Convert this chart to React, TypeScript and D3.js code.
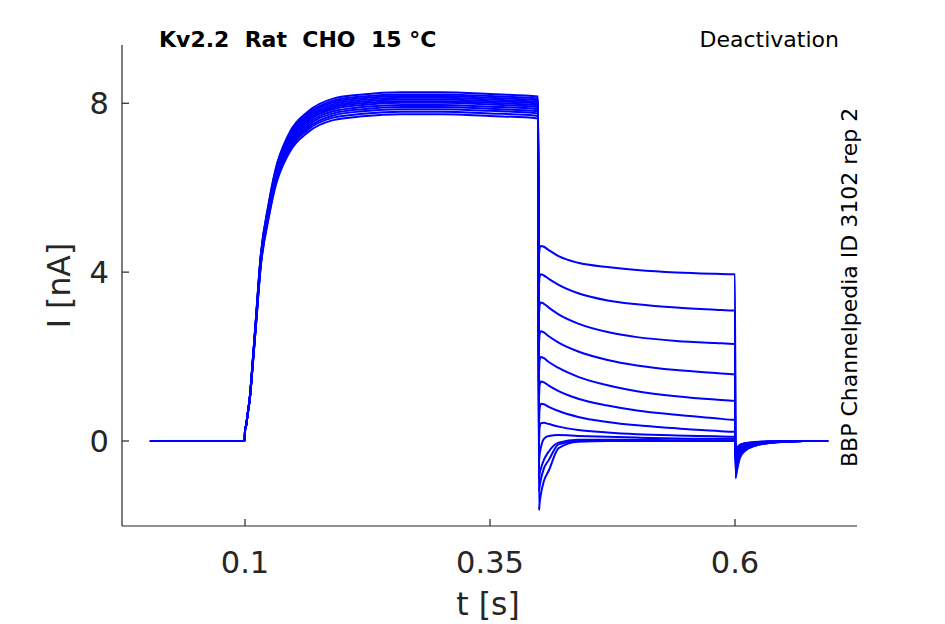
import * as d3 from "d3";

// sample times (s) for the three protocol phases
const actTimes = [0.003, 0.05, 0.0995, 0.1002, 0.101, 0.1025, 0.105, 0.108, 0.111, 0.116, 0.124, 0.131, 0.144, 0.164, 0.19, 0.22, 0.26, 0.3, 0.35, 0.399];
const tailTimes = [0.4, 0.4005, 0.402, 0.405, 0.41, 0.42, 0.44, 0.47, 0.5, 0.54, 0.58, 0.5995];
const postTimes = [0.6, 0.6005, 0.602, 0.605, 0.61, 0.62, 0.635, 0.65, 0.67, 0.695];

// activation current (nA), one row per sweep
const actValues = [
  [0, 0, 0, 0.3, 0.35, 0.6, 1.04, 1.89, 2.78, 4.27, 5.47, 6.26, 7.06, 7.6, 7.9, 8.0, 8.05, 8.05, 8.01, 7.95],
  [0, 0, 0, 0.3, 0.35, 0.6, 1.06, 1.92, 2.82, 4.34, 5.55, 6.35, 7.16, 7.72, 8.02, 8.12, 8.17, 8.17, 8.13, 8.07],
  [0, 0, 0, 0.3, 0.35, 0.6, 1.02, 1.84, 2.72, 4.17, 5.34, 6.11, 6.89, 7.42, 7.71, 7.81, 7.86, 7.86, 7.82, 7.76],
  [0, 0, 0, 0.3, 0.35, 0.6, 1.07, 1.94, 2.86, 4.39, 5.61, 6.42, 7.24, 7.8, 8.11, 8.21, 8.26, 8.26, 8.22, 8.16],
  [0, 0, 0, 0.3, 0.35, 0.6, 1.03, 1.87, 2.75, 4.23, 5.4, 6.19, 6.98, 7.52, 7.81, 7.91, 7.96, 7.96, 7.92, 7.86],
  [0, 0, 0, 0.3, 0.35, 0.6, 1.05, 1.91, 2.81, 4.32, 5.52, 6.32, 7.13, 7.68, 7.98, 8.08, 8.13, 8.13, 8.09, 8.03],
  [0, 0, 0, 0.3, 0.35, 0.6, 1.0, 1.82, 2.68, 4.11, 5.26, 6.02, 6.78, 7.31, 7.6, 7.69, 7.74, 7.74, 7.7, 7.64],
  [0, 0, 0, 0.3, 0.35, 0.6, 1.06, 1.93, 2.84, 4.36, 5.57, 6.39, 7.2, 7.75, 8.06, 8.16, 8.21, 8.21, 8.17, 8.11],
  [0, 0, 0, 0.3, 0.35, 0.6, 1.04, 1.88, 2.77, 4.25, 5.44, 6.23, 7.02, 7.57, 7.86, 7.96, 8.01, 8.01, 7.97, 7.91],
  [0, 0, 0, 0.3, 0.35, 0.6, 1.03, 1.86, 2.73, 4.2, 5.37, 6.15, 6.93, 7.47, 7.76, 7.86, 7.91, 7.91, 7.87, 7.81],
  [0, 0, 0, 0.3, 0.35, 0.6, 1.05, 1.9, 2.8, 4.29, 5.49, 6.29, 7.09, 7.64, 7.94, 8.04, 8.09, 8.09, 8.05, 7.99],
  [0, 0, 0, 0.3, 0.35, 0.6, 1.01, 1.83, 2.7, 4.14, 5.3, 6.07, 6.84, 7.37, 7.66, 7.75, 7.8, 7.8, 7.76, 7.7],
];

// tail current (nA) during the deactivation step
const tailValues = [
  [4.4, 4.55, 4.62, 4.6, 4.52, 4.38, 4.22, 4.12, 4.05, 3.99, 3.96, 3.95],
  [3.7, 3.88, 3.95, 3.92, 3.84, 3.7, 3.5, 3.33, 3.24, 3.16, 3.11, 3.09],
  [3.0, 3.2, 3.28, 3.25, 3.16, 3.0, 2.78, 2.58, 2.46, 2.37, 2.32, 2.3],
  [2.3, 2.52, 2.6, 2.57, 2.48, 2.33, 2.12, 1.92, 1.79, 1.68, 1.61, 1.58],
  [1.6, 1.9, 1.99, 1.96, 1.87, 1.73, 1.52, 1.32, 1.18, 1.06, 0.98, 0.95],
  [1.0, 1.3, 1.41, 1.39, 1.31, 1.18, 1.0, 0.84, 0.72, 0.62, 0.54, 0.5],
  [0.4, 0.75, 0.88, 0.87, 0.81, 0.71, 0.57, 0.45, 0.37, 0.3, 0.24, 0.22],
  [-0.1, 0.3, 0.42, 0.43, 0.4, 0.34, 0.26, 0.2, 0.16, 0.13, 0.11, 0.1],
  [-0.5, -0.35, -0.15, 0.05, 0.12, 0.14, 0.12, 0.1, 0.08, 0.06, 0.05, 0.05],
  [-0.9, -0.8, -0.65, -0.45, -0.25, -0.04, 0.03, 0.03, 0.03, 0.02, 0.02, 0.02],
  [-1.2, -1.1, -0.9, -0.65, -0.45, -0.08, 0.0, 0.01, 0.01, 0.0, 0.0, 0.0],
  [-1.64, -1.5, -1.25, -0.95, -0.7, -0.17, -0.02, 0.0, 0.0, 0.0, 0.0, 0.0],
];

// current (nA) after return to holding potential
const postValues = [
  [3.95, -0.88, -0.7, -0.4, -0.24, -0.12, -0.05, -0.02, 0, 0],
  [3.09, -0.8, -0.64, -0.37, -0.22, -0.11, -0.045, -0.018, 0, 0],
  [2.3, -0.72, -0.58, -0.33, -0.2, -0.1, -0.04, -0.016, 0, 0],
  [1.58, -0.64, -0.51, -0.29, -0.18, -0.09, -0.035, -0.014, 0, 0],
  [0.95, -0.56, -0.45, -0.26, -0.16, -0.08, -0.03, -0.012, 0, 0],
  [0.5, -0.48, -0.38, -0.22, -0.13, -0.07, -0.026, -0.01, 0, 0],
  [0.22, -0.4, -0.32, -0.18, -0.11, -0.055, -0.02, -0.008, 0, 0],
  [0.1, -0.34, -0.27, -0.15, -0.09, -0.045, -0.018, -0.007, 0, 0],
  [0.05, -0.3, -0.24, -0.14, -0.08, -0.04, -0.016, -0.006, 0, 0],
  [0.02, -0.26, -0.21, -0.12, -0.07, -0.035, -0.014, -0.005, 0, 0],
  [0.0, -0.22, -0.18, -0.1, -0.06, -0.03, -0.012, -0.004, 0, 0],
  [0.0, -0.2, -0.16, -0.09, -0.055, -0.027, -0.01, -0.004, 0, 0],
];

const xTicks = [0.1, 0.35, 0.6];
const xTickLabels = ["0.1", "0.35", "0.6"];
const yTicks = [0, 4, 8];
const yTickLabels = ["0", "4", "8"];

const width = 945;
const height = 624;
const left = 122;
const right = 857;
const top = 45;
const bottom = 526;
const axisColor = "#262626";
const font = "DejaVu Sans";

export default function App() {
  const x = d3.scaleLinear([-0.02551, 0.72449], [left, right]);
  const y = d3.scaleLinear([-2.014, 9.38], [bottom, top]);

  const times = [...actTimes, ...tailTimes, ...postTimes];
  const sweeps = actValues.map((a, i) =>
    times.map((t, j) => [t, [...a, ...tailValues[i], ...postValues[i]][j]] as [number, number])
  );

  const line = d3
    .line<[number, number]>()
    .x((d) => x(d[0]))
    .y((d) => y(d[1]))
    .curve(d3.curveMonotoneX);

  return (
    <svg
      width={width}
      height={height}
      style={{ position: "absolute", left: 0, top: 0, background: "#fff" }}
      fontFamily={font}
    >
      <g fill="none" stroke="#0000ff" strokeWidth={2} strokeLinejoin="round">
        {sweeps.map((s, i) => (
          <path key={i} d={line(s) ?? ""} />
        ))}
      </g>

      {/* axes */}
      <g stroke={axisColor} strokeWidth={1.2} fill="none">
        <line x1={left} x2={right} y1={bottom} y2={bottom} />
        <line x1={left} x2={left} y1={top} y2={bottom} />
        {xTicks.map((t) => (
          <line key={t} x1={x(t)} x2={x(t)} y1={bottom} y2={bottom - 7} />
        ))}
        {yTicks.map((t) => (
          <line key={t} x1={left} x2={left + 7} y1={y(t)} y2={y(t)} />
        ))}
      </g>
      <g fill={axisColor} fontSize={30.5}>
        {xTicks.map((t, i) => (
          <text key={t} x={x(t)} y={573} textAnchor="middle">
            {xTickLabels[i]}
          </text>
        ))}
        {yTicks.map((t, i) => (
          <text key={t} x={109} y={y(t) + 11} textAnchor="end">
            {yTickLabels[i]}
          </text>
        ))}
      </g>
      <text x={488} y={615} textAnchor="middle" fontSize={31.5} fill={axisColor}>
        t [s]
      </text>
      <text
        transform={`translate(70,${(top + bottom) / 2}) rotate(-90)`}
        textAnchor="middle"
        fontSize={31.5}
        fill={axisColor}
      >
        I [nA]
      </text>

      {/* annotations */}
      <text x={159} y={47} fontSize={22} fontWeight="bold" style={{ whiteSpace: "pre" }}>
        {"Kv2.2  Rat  CHO  15 °C"}
      </text>
      <text x={839} y={47} fontSize={22} textAnchor="end">
        Deactivation
      </text>
      <text transform="translate(857,467) rotate(-90)" fontSize={22}>
        BBP Channelpedia ID 3102 rep 2
      </text>
    </svg>
  );
}
